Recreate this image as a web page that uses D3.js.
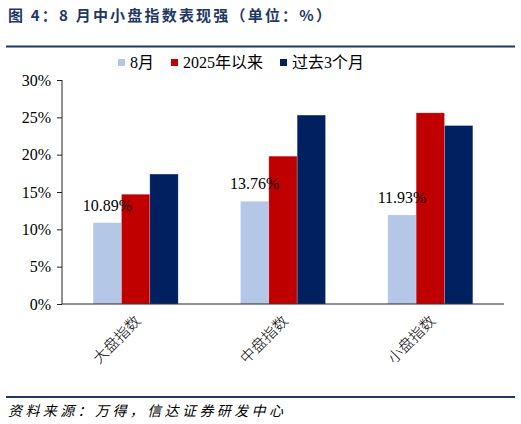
<!DOCTYPE html>
<html>
<head>
<meta charset="utf-8">
<script src="https://cdn.jsdelivr.net/npm/d3@7"></script>
<style>
  body { margin: 0; background: #fff; }
  text { font-family: "Liberation Serif", "Noto Sans CJK SC", serif; }
</style>
</head>
<body>
<div id="vis"></div>
<script>
var categories = ["大盘指数", "中盘指数", "小盘指数"];
var seriesNames = ["8月", "2025年以来", "过去3个月"];
var augValues = [10.89, 13.76, 11.93];
var ytdValues = [14.7, 19.8, 25.6];
var threeMonthValues = [17.4, 25.3, 23.9];
var yTicks = [0, 5, 10, 15, 20, 25, 30];
var colors = ["#b4c7e7", "#c00000", "#002060"];

function draw() {
  var width = 521, height = 424;
  var left = 62, right = 504, top = 80, bottom = 304;

  var svg = d3.select("#vis").append("svg")
              .attr("width", width)
              .attr("height", height);

  // title and rules
  svg.append("text")
     .attr("x", 8).attr("y", 21)
     .attr("font-size", 15).attr("font-weight", "bold")
     .attr("letter-spacing", 2.2)
     .attr("fill", "#1f3864")
     .style("font-family", "'Noto Sans CJK SC', sans-serif")
     .text("图 4：8 月中小盘指数表现强（单位：%）");

  svg.append("line").attr("x1", 6).attr("x2", 515).attr("y1", 46.5).attr("y2", 46.5)
     .attr("stroke", "#1f3864").attr("stroke-width", 2);
  svg.append("line").attr("x1", 6).attr("x2", 515).attr("y1", 397).attr("y2", 397)
     .attr("stroke", "#1f3864").attr("stroke-width", 2);

  svg.append("text")
     .attr("x", 8).attr("y", 416)
     .attr("font-size", 14).attr("font-style", "italic")
     .attr("letter-spacing", 3.4)
     .style("font-family", "'Noto Sans CJK SC', sans-serif")
     .attr("fill", "#000")
     .text("资料来源：万得，信达证券研发中心");

  var data = categories.map(function(c, i) {
    return { cat: c, vals: [augValues[i], ytdValues[i], threeMonthValues[i]] };
  });

  var x0 = d3.scaleBand().domain(categories).range([left, right])
             .paddingInner(0.423).paddingOuter(0.2115);
  var x1 = d3.scaleBand().domain(d3.range(seriesNames.length)).range([0, x0.bandwidth()]);
  var y = d3.scaleLinear().domain([0, 30]).range([bottom, top]);

  // bars
  var groups = svg.selectAll(".grp").data(data).enter().append("g")
                  .attr("transform", function(d) { return "translate(" + x0(d.cat) + ",0)"; });
  groups.selectAll("rect").data(function(d) { return d.vals; }).enter().append("rect")
        .attr("x", function(d, i) { return x1(i); })
        .attr("y", function(d) { return y(d); })
        .attr("width", x1.bandwidth())
        .attr("height", function(d) { return bottom - y(d); })
        .attr("fill", function(d, i) { return colors[i]; })
        .attr("stroke", "#ffffff").attr("stroke-opacity", 0.35).attr("stroke-width", 0.6);

  // data labels on 8月 series
  groups.append("text")
        .attr("x", function(d) { return x1(0) + x1.bandwidth() / 2; })
        .attr("y", function(d) { return y(d.vals[0]) - 12; })
        .attr("text-anchor", "middle")
        .attr("font-size", 16)
        .attr("fill", "#000")
        .text(function(d) { return d.vals[0].toFixed(2) + "%"; });

  // y axis
  var yAxis = svg.append("g").attr("transform", "translate(" + left + ",0)")
                 .call(d3.axisLeft(y).tickValues(yTicks).tickSize(5).tickPadding(6)
                         .tickFormat(function(d) { return d + "%"; }));
  yAxis.select(".domain").attr("stroke", "#222").attr("d", "M0," + top + "V" + bottom);
  yAxis.selectAll(".tick line").attr("stroke", "#222");
  yAxis.selectAll("text").attr("font-size", 16).attr("fill", "#000")
       .style("font-family", "'Liberation Serif', serif");

  // x axis
  var xAxis = svg.append("g").attr("transform", "translate(0," + bottom + ")")
                 .call(d3.axisBottom(x0).tickSize(0).tickPadding(0));
  xAxis.select(".domain").attr("stroke", "#222").attr("d", "M" + left + ",0H" + right);
  xAxis.selectAll("text")
       .attr("font-size", 15).attr("fill", "#000")
       .attr("font-weight", 300)
       .attr("text-anchor", "end")
       .attr("dy", 0).attr("y", 0)
       .attr("transform", "translate(6,18) rotate(-45)")
       .style("font-family", "'Noto Sans CJK SC', sans-serif");

  // legend
  var legendX = [118, 171, 280];
  var legend = svg.selectAll(".leg").data(seriesNames).enter().append("g")
                  .attr("transform", function(d, i) { return "translate(" + legendX[i] + ",59)"; });
  legend.append("rect").attr("width", 7).attr("height", 7)
        .attr("fill", function(d, i) { return colors[i]; });
  legend.append("text").attr("x", 12).attr("y", 9)
        .attr("font-size", 16).attr("fill", "#000")
        .text(function(d) { return d; });
}

draw();
</script>
</body>
</html>
